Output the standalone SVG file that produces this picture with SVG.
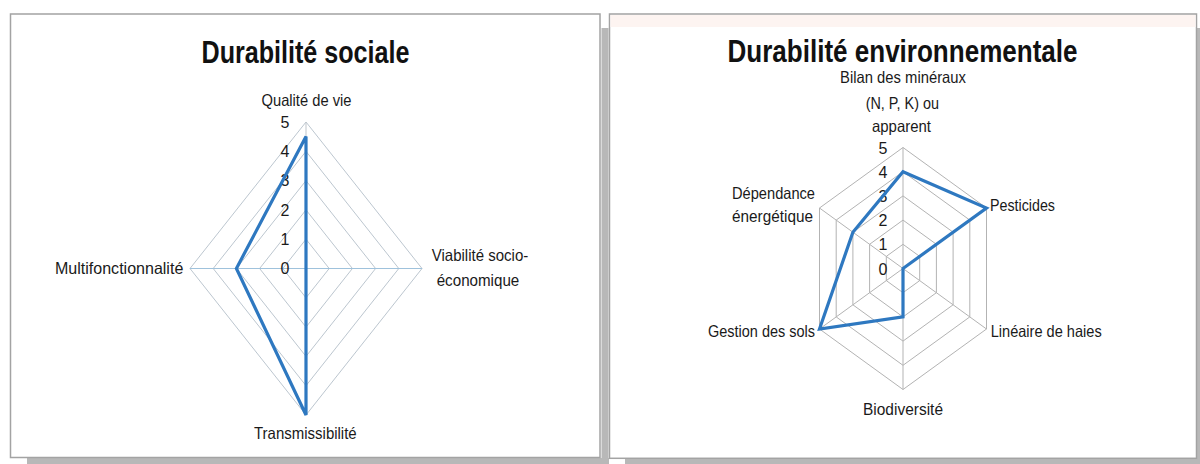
<svg xmlns="http://www.w3.org/2000/svg" width="1200" height="464" viewBox="0 0 1200 464">
<style>
.panel{fill:#ffffff;stroke:#a3a3a3;stroke-width:1.5}
.shadow{fill:#b8b8b8}
.title{font-family:"Liberation Sans",Arial,sans-serif;font-weight:bold;font-size:31px;fill:#111111;text-anchor:middle}
.lbl{font-family:"Liberation Sans",Arial,sans-serif;font-size:16.5px;fill:#1a1a1a}
.tick{font-family:"Liberation Sans",Arial,sans-serif;font-size:16px;fill:#1a1a1a;text-anchor:middle}
.gridL{fill:none;stroke:#bcc6cf;stroke-width:1}
.axisH{stroke:#9fc2dc;stroke-width:1.2}
.axisV{stroke:#bfc5cb;stroke-width:1}
.gridR{fill:none;stroke:#b3b3b3;stroke-width:1}
.data{fill:none;stroke:#2e78c0;stroke-width:3.2;stroke-linejoin:miter}
</style>

<!-- Left panel -->
<g id="panel-left">
  <rect class="shadow" x="27" y="458" width="582" height="6"/>
  <rect class="shadow" x="601.5" y="28" width="7" height="436"/>
  <rect class="panel" x="10.5" y="14" width="589.5" height="443.5"/>
  <text class="title" x="305.5" y="63" textLength="208" lengthAdjust="spacingAndGlyphs">Durabilité sociale</text>
</g>

<!-- Right panel -->
<g id="panel-right">
  <rect class="shadow" x="625" y="459" width="575" height="5"/>
  <rect class="shadow" x="1197" y="28" width="3" height="436"/>
  <rect class="panel" x="609.5" y="14" width="587" height="444.3"/>
  <rect x="610.5" y="15" width="585" height="12" fill="#fdf4f1"/>
  <text class="title" x="902.5" y="61.8" textLength="350" lengthAdjust="spacingAndGlyphs">Durabilité environnementale</text>
</g>

<g id="chart-social-grid">
  <polygon class="gridL" points="306,239.2 329.2,268.5 306,297.8 282.8,268.5"/>
  <polygon class="gridL" points="306,209.9 352.4,268.5 306,327.1 259.6,268.5"/>
  <polygon class="gridL" points="306,180.6 375.6,268.5 306,356.4 236.4,268.5"/>
  <polygon class="gridL" points="306,151.3 398.8,268.5 306,385.7 213.2,268.5"/>
  <polygon class="gridL" points="306,122 422,268.5 306,415 190,268.5"/>
  <line class="axisH" x1="190" y1="268.5" x2="422" y2="268.5"/>
  <line class="axisV" x1="306" y1="122" x2="306" y2="415"/>
</g>

<g id="chart-env-grid">
  <polygon class="gridR" points="903,244.3 919.7,256.4 919.7,280.6 903,292.7 886.3,280.6 886.3,256.4"/>
  <polygon class="gridR" points="903,220.1 936.4,244.3 936.4,292.7 903,316.9 869.6,292.7 869.6,244.3"/>
  <polygon class="gridR" points="903,195.9 953.1,232.2 953.1,304.8 903,341.1 852.9,304.8 852.9,232.2"/>
  <polygon class="gridR" points="903,171.7 969.8,220.1 969.8,316.9 903,365.3 836.2,316.9 836.2,220.1"/>
  <polygon class="gridR" points="903,147.5 986.5,208 986.5,329 903,389.5 819.5,329 819.5,208"/>
  <line class="gridR" x1="903" y1="268.5" x2="903" y2="147.5"/>
  <line class="gridR" x1="903" y1="268.5" x2="986.5" y2="208"/>
  <line class="gridR" x1="903" y1="268.5" x2="986.5" y2="329"/>
  <line class="gridR" x1="903" y1="268.5" x2="903" y2="389.5"/>
  <line class="gridR" x1="903" y1="268.5" x2="819.5" y2="329"/>
  <line class="gridR" x1="903" y1="268.5" x2="819.5" y2="208"/>
</g>

<g id="ticks-social">
  <text class="tick" x="285" y="128">5</text>
  <text class="tick" x="285" y="157">4</text>
  <text class="tick" x="285" y="186.3">3</text>
  <text class="tick" x="285" y="215.6">2</text>
  <text class="tick" x="285" y="244.9">1</text>
  <text class="tick" x="285" y="274.2">0</text>
</g>

<g id="ticks-env">
  <text class="tick" x="883" y="153.5">5</text>
  <text class="tick" x="883" y="177.7">4</text>
  <text class="tick" x="883" y="201.9">3</text>
  <text class="tick" x="883" y="226.1">2</text>
  <text class="tick" x="883" y="250.3">1</text>
  <text class="tick" x="883" y="274.5">0</text>
</g>

<g id="connectors">
  <polygon id="data-social" class="data" points="306,136.6 306,268.5 306,415 236.4,268.5"/>
  <polygon id="data-env" class="data" points="903,171.7 986.5,208 903,268.5 903,316.9 819.5,329 852.9,232.2"/>
</g>

<g id="axis-qualite"><text class="lbl" x="261.5" y="105.5" textLength="90" lengthAdjust="spacingAndGlyphs">Qualité de vie</text></g>
<g id="axis-viabilite">
  <text class="lbl" x="431.7" y="260.8" textLength="96.6" lengthAdjust="spacingAndGlyphs">Viabilité socio-</text>
  <text class="lbl" x="436.7" y="285.8" textLength="82.6" lengthAdjust="spacingAndGlyphs">économique</text>
</g>
<g id="axis-transmissibilite"><text class="lbl" x="254" y="439" textLength="102.7" lengthAdjust="spacingAndGlyphs">Transmissibilité</text></g>
<g id="axis-multifonctionnalite"><text class="lbl" x="55" y="274" textLength="128.3" lengthAdjust="spacingAndGlyphs">Multifonctionnalité</text></g>

<g id="axis-bilan">
  <text class="lbl" x="840" y="83.4" textLength="126" lengthAdjust="spacingAndGlyphs">Bilan des minéraux</text>
  <text class="lbl" x="865.7" y="108.6" textLength="73.3" lengthAdjust="spacingAndGlyphs">(N, P, K) ou</text>
  <text class="lbl" x="872" y="132.4" textLength="59" lengthAdjust="spacingAndGlyphs">apparent</text>
</g>
<g id="axis-pesticides"><text class="lbl" x="990" y="210.7" textLength="65" lengthAdjust="spacingAndGlyphs">Pesticides</text></g>
<g id="axis-lineaire"><text class="lbl" x="990.7" y="337.4" textLength="111" lengthAdjust="spacingAndGlyphs">Linéaire de haies</text></g>
<g id="axis-biodiversite"><text class="lbl" x="863" y="414.7" textLength="80" lengthAdjust="spacingAndGlyphs">Biodiversité</text></g>
<g id="axis-gestion"><text class="lbl" x="708" y="337.4" textLength="107" lengthAdjust="spacingAndGlyphs">Gestion des sols</text></g>
<g id="axis-dependance">
  <text class="lbl" x="732" y="199" textLength="83" lengthAdjust="spacingAndGlyphs">Dépendance</text>
  <text class="lbl" x="732" y="222.4" textLength="81" lengthAdjust="spacingAndGlyphs">énergétique</text>
</g>
</svg>
